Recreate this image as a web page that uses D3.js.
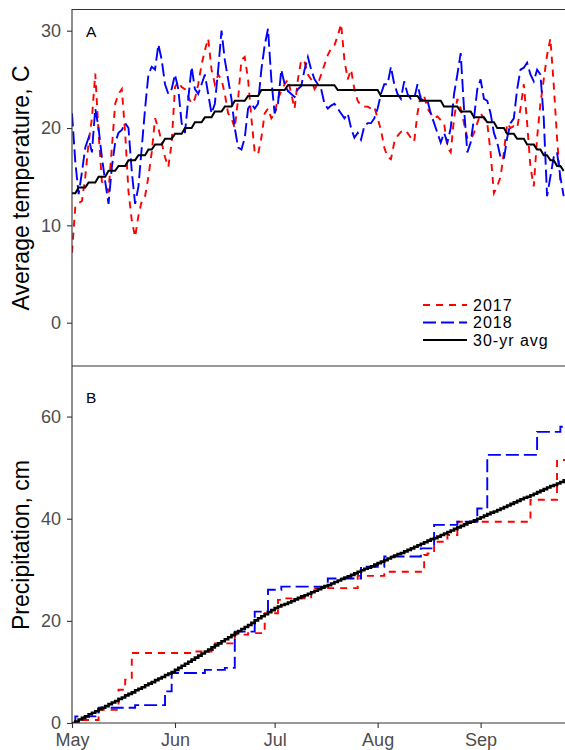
<!DOCTYPE html>
<html><head><meta charset="utf-8">
<script src="https://cdn.jsdelivr.net/npm/d3@7"></script>
<style>body{margin:0;background:#fff}svg{display:block;font-family:"Liberation Sans",Arial,sans-serif}</style>
</head><body><svg id="chart" width="565" height="750"></svg>
<script>
// ---- data (day index 0 = May 1) ----
const monthLabels = ["May","Jun","Jul","Aug","Sep"];
const monthDays = [0, 31, 61, 92, 123];
const tempTicks = [0, 10, 20, 30];
const precTicks = [0, 20, 40, 60];
const seriesNames = ["2017", "2018", "30-yr avg"];

const temp2017 = [7.2,12.0,12.3,12.5,15.0,18.5,21.0,25.6,19.5,14.5,
14.0,13.5,18.0,22.5,23.5,24.0,19.5,13.5,10.5,8.8,
11.0,12.5,13.0,15.0,17.5,21.0,20.0,18.5,17.0,16.0,
18.5,24.2,24.8,24.2,24.0,23.2,22.5,23.0,24.5,26.5,
28.0,29.2,26.0,24.5,25.5,25.0,23.5,21.5,21.0,20.0,
23.0,27.0,27.3,25.0,21.0,17.5,17.3,19.0,21.5,22.0,
21.0,21.5,23.0,23.8,24.5,25.0,23.5,22.0,25.0,27.0,
26.8,25.5,25.0,24.0,24.5,25.5,26.5,27.5,28.2,28.5,
29.5,30.7,27.0,25.0,26.0,24.0,22.8,22.3,22.2,22.2,
22.0,22.2,21.0,19.8,18.0,17.0,16.8,18.5,19.2,19.6,
19.8,19.5,19.0,18.6,21.5,23.5,23.3,22.0,21.5,21.0,
21.2,20.8,20.5,18.0,17.5,21.0,23.0,22.0,20.5,19.0,
18.8,19.5,20.5,21.5,21.0,20.5,17.5,13.3,14.0,15.0,
17.5,20.5,20.0,20.2,20.0,22.0,24.5,20.5,16.0,14.0,
19.0,22.5,25.0,27.5,29.2,24.5,19.0,14.5,14.8];

const temp2018 = [21.5,16.5,13.2,15.5,18.0,19.0,17.5,22.0,20.0,17.0,
14.5,12.2,16.0,18.5,19.5,19.8,20.5,20.0,15.5,12.2,
14.0,18.0,22.0,25.5,26.3,26.0,28.6,27.0,24.5,23.5,
24.0,25.5,24.0,20.5,19.5,23.0,26.3,24.0,23.5,24.5,
25.5,23.5,21.5,22.5,26.0,30.0,27.0,25.0,23.0,20.0,
18.0,17.8,19.0,22.0,22.5,22.0,22.5,26.0,28.5,30.2,
25.0,21.5,22.5,26.0,24.5,23.8,23.5,23.2,24.0,24.3,
26.0,27.3,26.0,25.0,24.5,24.0,22.5,22.0,22.3,22.5,
22.0,21.5,21.0,21.5,20.0,19.0,19.5,18.8,20.2,20.5,
20.5,21.0,22.0,23.5,24.5,24.5,26.3,24.5,23.5,23.0,
24.8,23.5,23.0,23.0,24.5,23.0,22.8,22.8,21.5,20.5,
19.5,18.5,19.5,18.5,20.0,23.5,25.5,27.7,22.0,17.5,
18.5,21.0,24.0,25.0,23.0,22.8,21.5,19.5,18.5,17.0,
16.8,19.0,20.5,21.0,24.0,26.0,26.2,26.7,25.5,24.8,
26.0,25.5,21.0,13.0,15.0,17.0,17.5,15.0,13.0];

const tempAvg = [13.3,13.3,13.9,13.9,13.9,14.4,14.4,14.4,15.0,15.0,
15.0,15.6,15.6,15.6,16.1,16.1,16.1,16.7,16.7,16.7,
17.2,17.2,17.2,17.8,17.8,18.3,18.3,18.3,18.9,18.9,
18.9,19.4,19.4,19.4,20.0,20.0,20.0,20.6,20.6,20.6,
21.1,21.1,21.1,21.7,21.7,21.7,22.2,22.2,22.2,22.8,
22.8,22.8,22.8,23.3,23.3,23.3,23.3,23.9,23.9,23.9,
23.9,23.9,23.9,23.9,23.9,24.4,24.4,24.4,24.4,24.4,
24.4,24.4,24.4,24.4,24.4,24.4,24.4,24.4,24.4,24.4,
23.9,23.9,23.9,23.9,23.9,23.9,23.9,23.9,23.9,23.9,
23.9,23.9,23.9,23.3,23.3,23.3,23.3,23.3,23.3,23.3,
23.3,23.3,23.3,23.3,23.3,22.8,22.8,22.8,22.8,22.8,
22.8,22.8,22.2,22.2,22.2,22.2,22.2,21.7,21.7,21.7,
21.7,21.1,21.1,21.1,21.1,20.6,20.6,20.6,20.0,20.0,
20.0,19.4,19.4,19.4,18.9,18.9,18.9,18.3,18.3,18.3,
17.8,17.8,17.2,17.2,16.7,16.7,16.1,16.1,15.6];

const prec2017Day = [0,2,8,14,16,18,37,42,43,49,53,58,62,63,72,86,94,106,107,109,113,116,138,146];
const prec2017Cum = [0,0.6,2.6,6.5,8.5,13.7,14.0,14.3,15.6,17.3,17.6,21.5,24.1,24.4,26.4,28.8,29.6,32.9,33.2,35.5,36.8,39.4,43.7,51.5];
const prec2018Day = [0,1,8,19,28,30,40,46,49,55,59,63,77,87,94,105,109,116,122,125,140,147];
const prec2018Cum = [0,1.3,3.0,3.5,6.2,9.8,10.4,10.8,17.9,21.8,26.1,26.7,28.3,30.6,32.6,34.2,38.8,39.4,42.0,52.5,57.0,58.0];

const precAvg = [0.0,0.3,0.7,1.0,1.3,1.7,2.0,2.3,2.7,3.0,
3.3,3.7,4.0,4.3,4.7,5.0,5.4,5.7,6.0,6.4,
6.7,7.0,7.4,7.7,8.0,8.4,8.7,9.0,9.4,9.7,
10.0,10.4,10.8,11.2,11.6,12.0,12.4,12.8,13.2,13.6,
14.0,14.4,14.8,15.2,15.6,16.0,16.4,16.8,17.2,17.6,
18.0,18.4,18.8,19.2,19.6,20.1,20.5,20.9,21.3,21.7,
22.1,22.5,22.8,23.1,23.3,23.6,23.9,24.2,24.5,24.8,
25.0,25.3,25.6,25.9,26.2,26.5,26.8,27.0,27.3,27.6,
27.9,28.2,28.5,28.7,29.0,29.3,29.6,29.9,30.2,30.4,
30.7,31.0,31.3,31.6,31.9,32.2,32.5,32.8,33.1,33.3,
33.6,33.9,34.2,34.5,34.8,35.1,35.4,35.7,36.0,36.2,
36.5,36.8,37.1,37.4,37.7,38.0,38.3,38.6,38.9,39.2,
39.4,39.7,40.0,40.3,40.6,40.9,41.2,41.4,41.7,42.0,
42.3,42.6,42.9,43.2,43.5,43.8,44.1,44.3,44.6,44.9,
45.2,45.5,45.8,46.1,46.4,46.6,46.9,47.2,47.5];

// ---- layout ----
const svg = d3.select("#chart");
const L = 72, R = 565;
const topA = 9, botA = 366, topB = 366, botB = 723;
const startMs = Date.UTC(2018, 4, 1);
const dayDate = i => new Date(startMs + i * 86400000);
const endDay = 148.4;

const x = d3.scaleUtc().domain([dayDate(0), dayDate(endDay)]).range([L, R]);
const yA = d3.scaleLinear().domain([-4.45, 32.23]).range([botA, topA]);
const yB = d3.scaleLinear().domain([0, 69.9]).range([botB, topB]);

const defs = svg.append("defs");
defs.append("clipPath").attr("id","clipA").append("rect").attr("x",L).attr("y",topA).attr("width",R-L).attr("height",botA-topA);
defs.append("clipPath").attr("id","clipB").append("rect").attr("x",L).attr("y",topB).attr("width",R-L).attr("height",botB-topB);

const styles = {
  "2017": {color:"#ff0000", dash:"7,6", w:1.9},
  "2018": {color:"#0000ff", dash:"13,5", w:1.9},
  "30-yr avg": {color:"#000000", dash:null, w:2}
};

// ---- panel A: temperature ----
const gA = svg.append("g").attr("clip-path","url(#clipA)");
const lineA = d3.line().x((d,i)=>x(dayDate(i))).y(d=>yA(d));
[[temp2017,"2017"],[temp2018,"2018"],[tempAvg,"30-yr avg"]].forEach(([arr,name])=>{
  const s = styles[name];
  gA.append("path").datum(arr).attr("d", lineA)
    .attr("fill","none").attr("stroke",s.color).attr("stroke-width",s.w)
    .attr("stroke-dasharray",s.dash);
});

// ---- panel B: precipitation ----
const gB = svg.append("g").attr("clip-path","url(#clipB)");
const lineB = d3.line().curve(d3.curveStepAfter).x(d=>x(dayDate(d[0]))).y(d=>yB(d[1]));
function stepPts(days, cum){
  const pts = days.map((d,i)=>[d, cum[i]]);
  pts.push([endDay, cum[cum.length-1]]);
  return pts;
}
const avgPts = precAvg.map((v,i)=>[i,v]); avgPts.push([endDay, precAvg[precAvg.length-1]]);
gB.append("path").datum(stepPts(prec2017Day,prec2017Cum)).attr("d",lineB)
  .attr("fill","none").attr("stroke",styles["2017"].color).attr("stroke-width",1.9).attr("stroke-dasharray",styles["2017"].dash);
gB.append("path").datum(stepPts(prec2018Day,prec2018Cum)).attr("d",lineB)
  .attr("fill","none").attr("stroke",styles["2018"].color).attr("stroke-width",1.9).attr("stroke-dasharray",styles["2018"].dash);
gB.append("path").datum(avgPts).attr("d",lineB)
  .attr("fill","none").attr("stroke","#000").attr("stroke-width",2.6);

// ---- frames / axes ----
const axCol = "#333";
svg.append("line").attr("x1",L).attr("x2",R).attr("y1",topA+0.5).attr("y2",topA+0.5).attr("stroke",axCol).attr("stroke-width",1.1);
svg.append("line").attr("x1",L).attr("x2",R).attr("y1",botA).attr("y2",botA).attr("stroke",axCol).attr("stroke-width",1.1);
svg.append("line").attr("x1",L).attr("x2",R).attr("y1",botB).attr("y2",botB).attr("stroke",axCol).attr("stroke-width",1.1);
svg.append("line").attr("x1",L).attr("x2",L).attr("y1",topA).attr("y2",botB+0.5).attr("stroke",axCol).attr("stroke-width",1.1);

function styleAxis(g){
  g.select(".domain").remove();
  g.selectAll(".tick line").attr("stroke",axCol).attr("stroke-width",1.1);
  g.selectAll(".tick text").attr("fill","#4d4d4d").style("font-size","18px").style("font-family",'"Liberation Sans",Arial,sans-serif');
}
svg.append("g").attr("transform",`translate(${L},0)`)
  .call(d3.axisLeft(yA).tickValues(tempTicks).tickSize(5).tickPadding(6))
  .call(styleAxis);
svg.append("g").attr("transform",`translate(${L},0)`)
  .call(d3.axisLeft(yB).tickValues(precTicks).tickSize(5).tickPadding(6))
  .call(styleAxis);
svg.append("g").attr("transform",`translate(0,${botB})`)
  .call(d3.axisBottom(x).tickValues(monthDays.map(dayDate)).tickFormat((d,i)=>monthLabels[i]).tickSize(5).tickPadding(5))
  .call(styleAxis);

// ---- titles ----
svg.append("text").attr("transform","translate(29,188) rotate(-90)").attr("text-anchor","middle")
  .style("font-size","23px").attr("fill","#000").text("Average temperature, C");
svg.append("text").attr("transform","translate(29,545) rotate(-90)").attr("text-anchor","middle")
  .style("font-size","23px").attr("fill","#000").text("Precipitation, cm");
svg.append("text").attr("x",86).attr("y",37).style("font-size","15.5px").text("A");
svg.append("text").attr("x",86).attr("y",403).style("font-size","15.5px").text("B");

// ---- legend ----
const lg = svg.append("g");
seriesNames.forEach((name,i)=>{
  const yy = 305 + i*17.5;
  const s = styles[name];
  lg.append("line").attr("x1",423).attr("x2",467).attr("y1",yy).attr("y2",yy)
    .attr("stroke",s.color).attr("stroke-width",2).attr("stroke-dasharray",s.dash);
  lg.append("text").attr("x",473).attr("y",yy+5.8).style("font-size","16px").style("letter-spacing","1px")
    .attr("fill","#000").text(name);
});
</script></body></html>
